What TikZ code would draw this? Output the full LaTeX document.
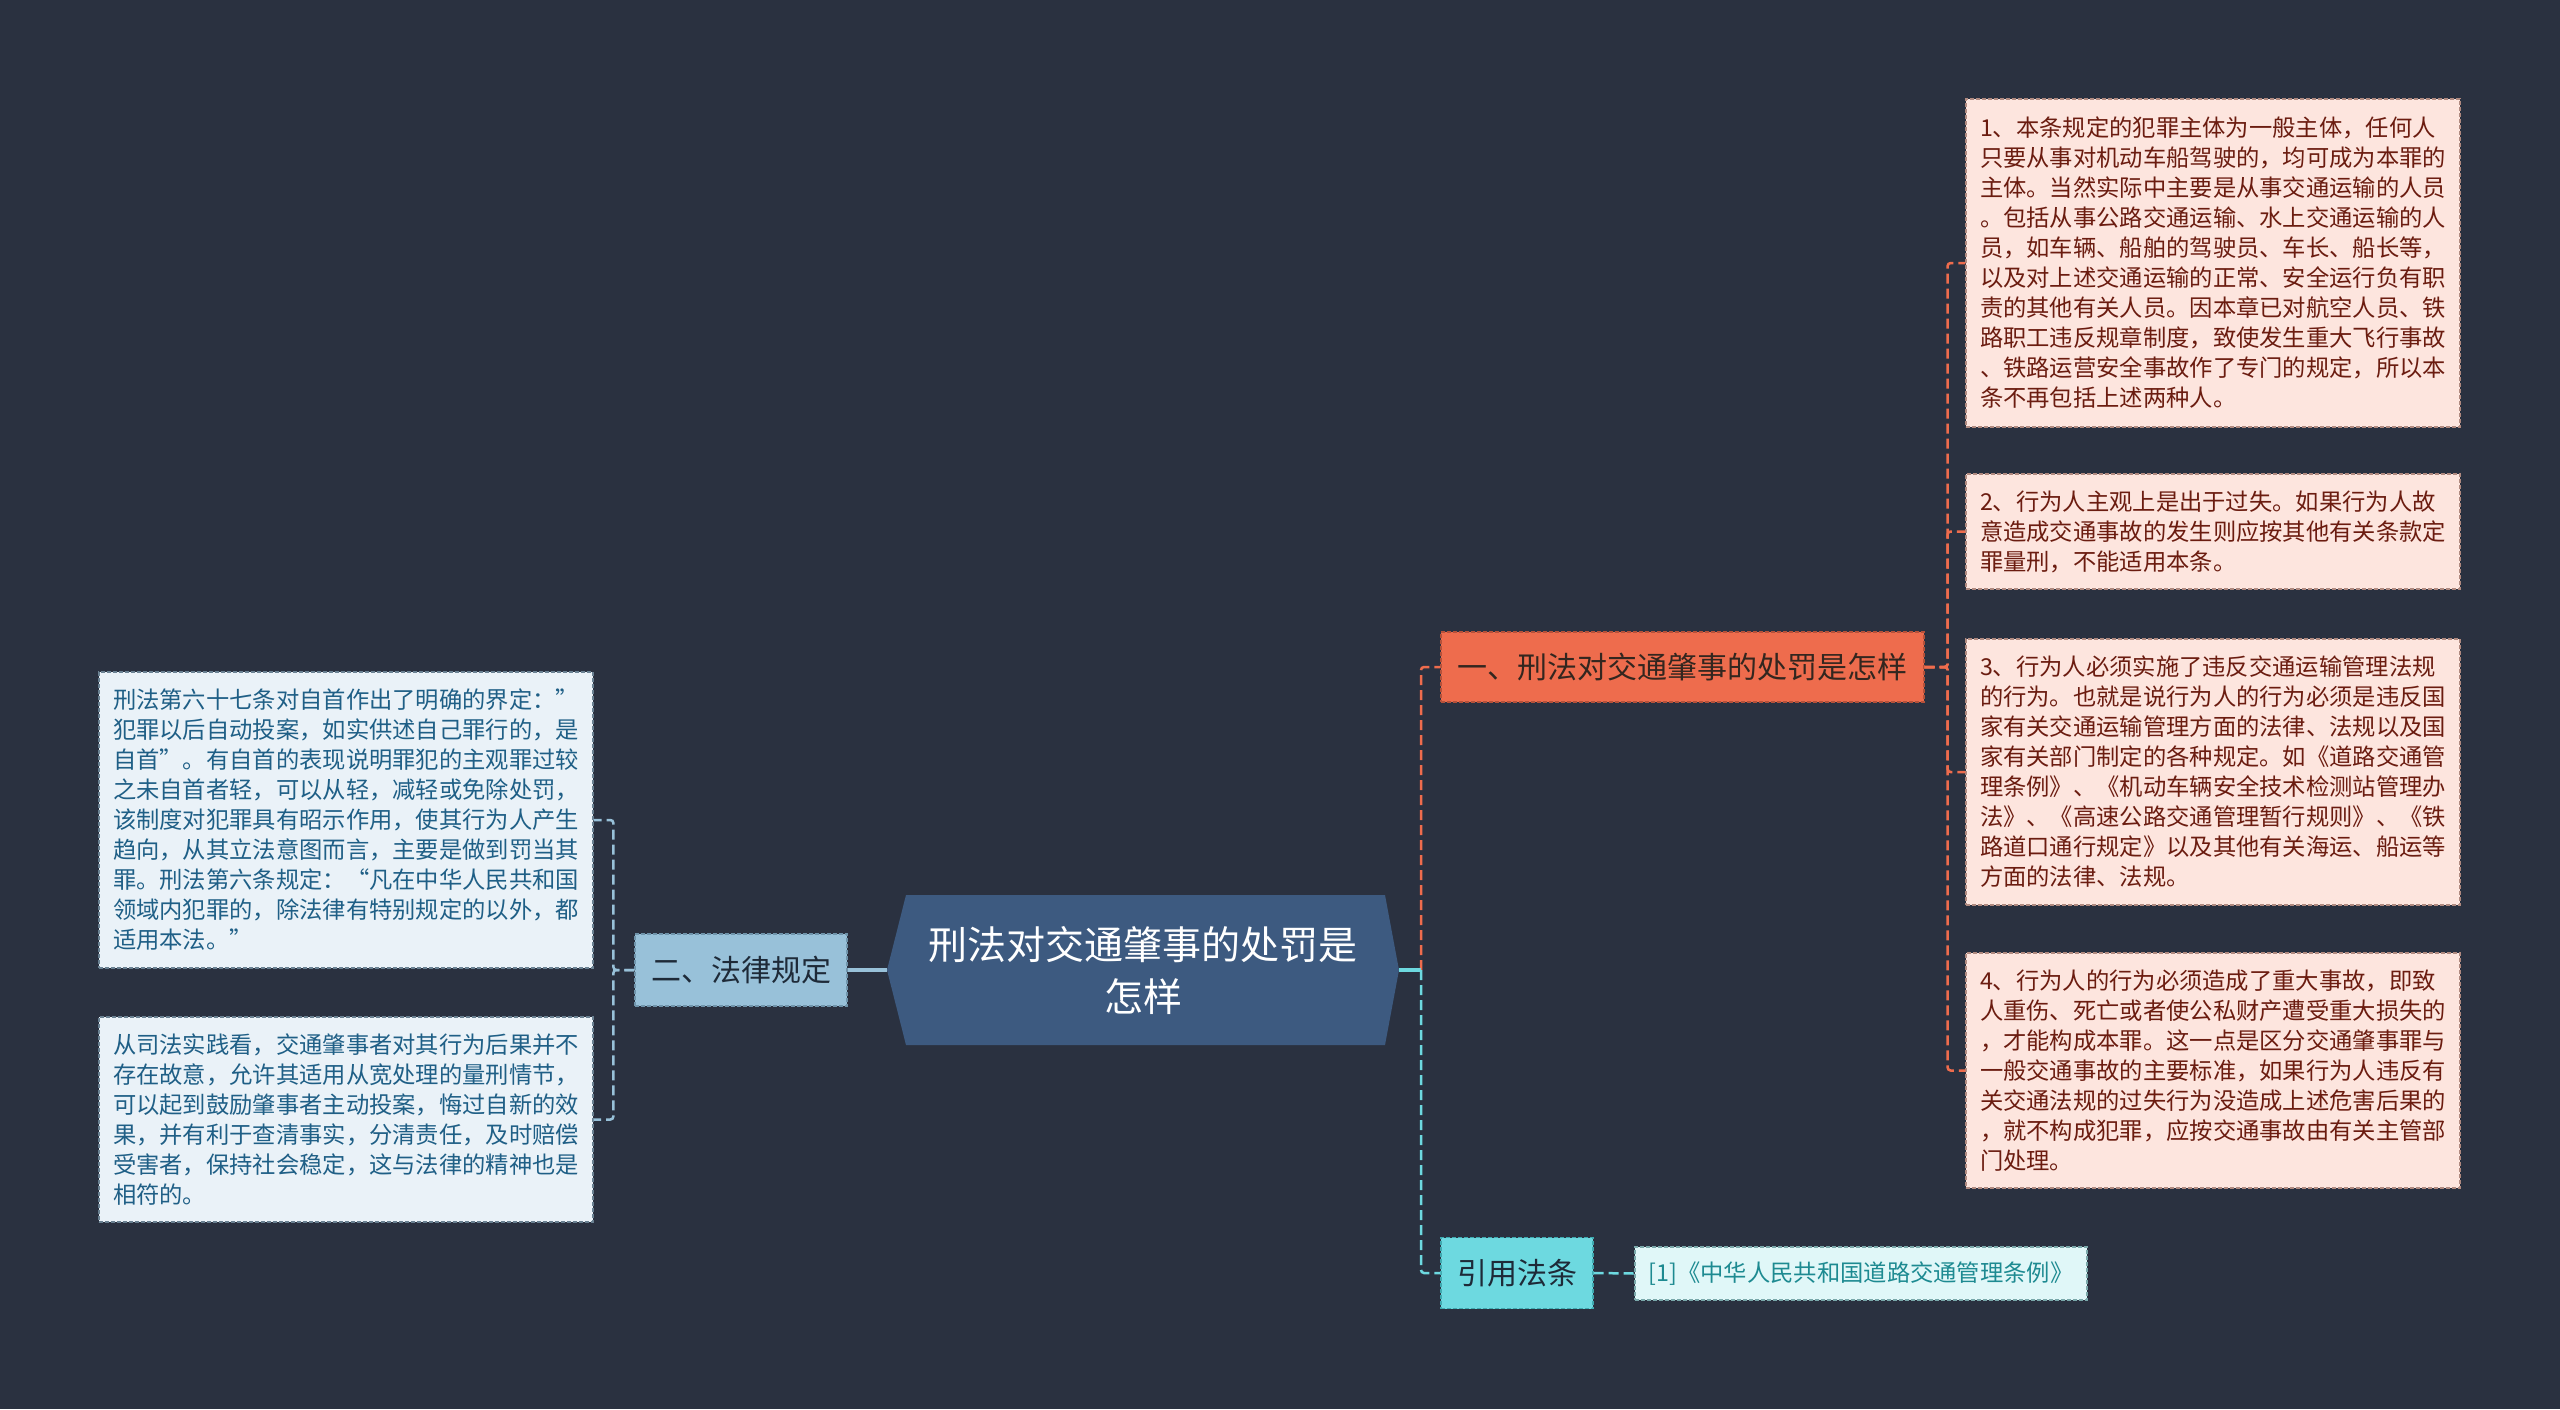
\documentclass[tikz,border=0pt]{standalone}
\usepackage{fontspec}
\setmainfont{Noto Sans CJK SC}
\definecolor{bg}{HTML}{2A3140}
\definecolor{cfill}{HTML}{3D5A80}
\definecolor{ofill}{HTML}{EE6C4D}
\definecolor{oborder}{HTML}{B5513A}
\definecolor{otext}{HTML}{33261F}
\definecolor{rfill}{HTML}{FDE5DE}
\definecolor{rborder}{HTML}{B08A80}
\definecolor{rtext}{HTML}{6B1C10}
\definecolor{lfill}{HTML}{EAF2F8}
\definecolor{lborder}{HTML}{6A8192}
\definecolor{ltext}{HTML}{1F5F86}
\definecolor{bfill}{HTML}{98C1D9}
\definecolor{bborder}{HTML}{6F94AB}
\definecolor{btext}{HTML}{1E2A38}
\definecolor{cyfill}{HTML}{6DD9E0}
\definecolor{cyborder}{HTML}{3FA9B0}
\definecolor{reffill}{HTML}{E0F7F8}
\definecolor{refborder}{HTML}{7AA8AA}
\definecolor{reftext}{HTML}{1D8A91}
\tikzset{
  body/.style={inner sep=0pt, align=left, font=\fontsize{23.3}{30}\selectfont},
  rbox/.style={body, fill=rfill, draw=rborder, dash pattern=on 4pt off 2pt, line width=1.2pt, text=rtext, minimum width=494pt},
  lbox/.style={body, fill=lfill, draw=lborder, dash pattern=on 4pt off 2pt, line width=1.2pt, text=ltext, minimum width=494pt},
  topic/.style={inner sep=0pt, align=center, font=\fontsize{30}{36}\selectfont, dash pattern=on 4pt off 2pt, line width=1.2pt},
  oline/.style={draw=ofill, line width=2.5pt, dash pattern=on 10pt off 5pt, rounded corners=3pt},
  lline/.style={draw=bfill, line width=2.5pt, dash pattern=on 10pt off 5pt, rounded corners=3pt},
  cline/.style={draw=cyfill, line width=2.5pt, dash pattern=on 10pt off 5pt, rounded corners=3pt},
}
\begin{document}
\begin{tikzpicture}[x=1pt,y=-1pt]
\fill[bg] (0,0) rectangle (2560,1409);
\useasboundingbox (0,0) rectangle (2560,1409);
% central topic
\fill[cfill] (887,970) -- (906,895) -- (1385,895) -- (1399,970) -- (1385,1045) -- (906,1045) -- cycle;
\node[inner sep=0pt, minimum width=512pt, minimum height=150pt, align=center, text=white,
  font=\fontsize{39}{52}\selectfont] (ctr) at (1143,970) {刑法对交通肇事的处罚是\\怎样};
% main topics
\node[topic, fill=ofill, draw=oborder, text=otext, minimum width=483pt, minimum height=70pt] (o) at (1682.5,667) {一、刑法对交通肇事的处罚是怎样};
\node[topic, fill=bfill, draw=bborder, text=btext, minimum width=212pt, minimum height=72pt] (law) at (741,970) {二、法律规定};
\node[topic, fill=cyfill, draw=cyborder, text=btext, minimum width=152pt, minimum height=71pt] (cite) at (1517,1273) {引用法条};
% right details
\node[rbox, minimum height=328pt] (r1) at (2213,263) {1、本条规定的犯罪主体为一般主体，任何人\\只要从事对机动车船驾驶的，均可成为本罪的\\主体。当然实际中主要是从事交通运输的人员\\。包括从事公路交通运输、水上交通运输的人\\员，如车辆、船舶的驾驶员、车长、船长等，\\以及对上述交通运输的正常、安全运行负有职\\责的其他有关人员。因本章已对航空人员、铁\\路职工违反规章制度，致使发生重大飞行事故\\、铁路运营安全事故作了专门的规定，所以本\\条不再包括上述两种人。};
\node[rbox, minimum height=115pt] (r2) at (2213,531.5) {2、行为人主观上是出于过失。如果行为人故\\意造成交通事故的发生则应按其他有关条款定\\罪量刑，不能适用本条。};
\node[rbox, minimum height=266pt] (r3) at (2213,772) {3、行为人必须实施了违反交通运输管理法规\\的行为。也就是说行为人的行为必须是违反国\\家有关交通运输管理方面的法律、法规以及国\\家有关部门制定的各种规定。如《道路交通管\\理条例》、《机动车辆安全技术检测站管理办\\法》、《高速公路交通管理暂行规则》、《铁\\路道口通行规定》以及其他有关海运、船运等\\方面的法律、法规。};
\node[rbox, minimum height=235pt] (r4) at (2213,1070.5) {4、行为人的行为必须造成了重大事故，即致\\人重伤、死亡或者使公私财产遭受重大损失的\\，才能构成本罪。这一点是区分交通肇事罪与\\一般交通事故的主要标准，如果行为人违反有\\关交通法规的过失行为没造成上述危害后果的\\，就不构成犯罪，应按交通事故由有关主管部\\门处理。};
% left details
\node[lbox, minimum height=296pt] (l1) at (346,820) {刑法第六十七条对自首作出了明确的界定：”\\犯罪以后自动投案，如实供述自己罪行的，是\\自首”。有自首的表现说明罪犯的主观罪过较\\之未自首者轻，可以从轻，减轻或免除处罚，\\该制度对犯罪具有昭示作用，使其行为人产生\\趋向，从其立法意图而言，主要是做到罚当其\\罪。刑法第六条规定：“凡在中华人民共和国\\领域内犯罪的，除法律有特别规定的以外，都\\适用本法。”};
\node[lbox, minimum height=205pt] (l2) at (346,1119.5) {从司法实践看，交通肇事者对其行为后果并不\\存在故意，允许其适用从宽处理的量刑情节，\\可以起到鼓励肇事者主动投案，悔过自新的效\\果，并有利于查清事实，分清责任，及时赔偿\\受害者，保持社会稳定，这与法律的精神也是\\相符的。};
% reference
\node[body, fill=reffill, draw=refborder, dash pattern=on 4pt off 2pt, line width=1.2pt, text=reftext, minimum width=452pt, minimum height=53pt, align=center] (ref) at (1861,1273.5) {[1]《中华人民共和国道路交通管理条例》};
% connectors
\draw[draw=bfill, line width=4pt] (ctr.west) -- (law.east);
\coordinate (rj) at (1421,970);
\draw[oline] (rj) |- (o.west);
\draw[cline] (rj) |- (cite.west);
\draw[draw=cyfill, line width=4pt] (ctr.east) -- (rj);
\draw[oline] (o.east) -- ++(23,0) |- (r1.west);
\draw[oline] (o.east) -- ++(23,0) |- (r2.west);
\draw[oline] (o.east) -- ++(23,0) |- (r3.west);
\draw[oline] (o.east) -- ++(23,0) |- (r4.west);
\draw[lline] (law.west) -- ++(-21,0) |- (l1.east);
\draw[lline] (law.west) -- ++(-21,0) |- (l2.east);
\draw[cline] (cite.east) -- (ref.west);
\end{tikzpicture}
\end{document}
